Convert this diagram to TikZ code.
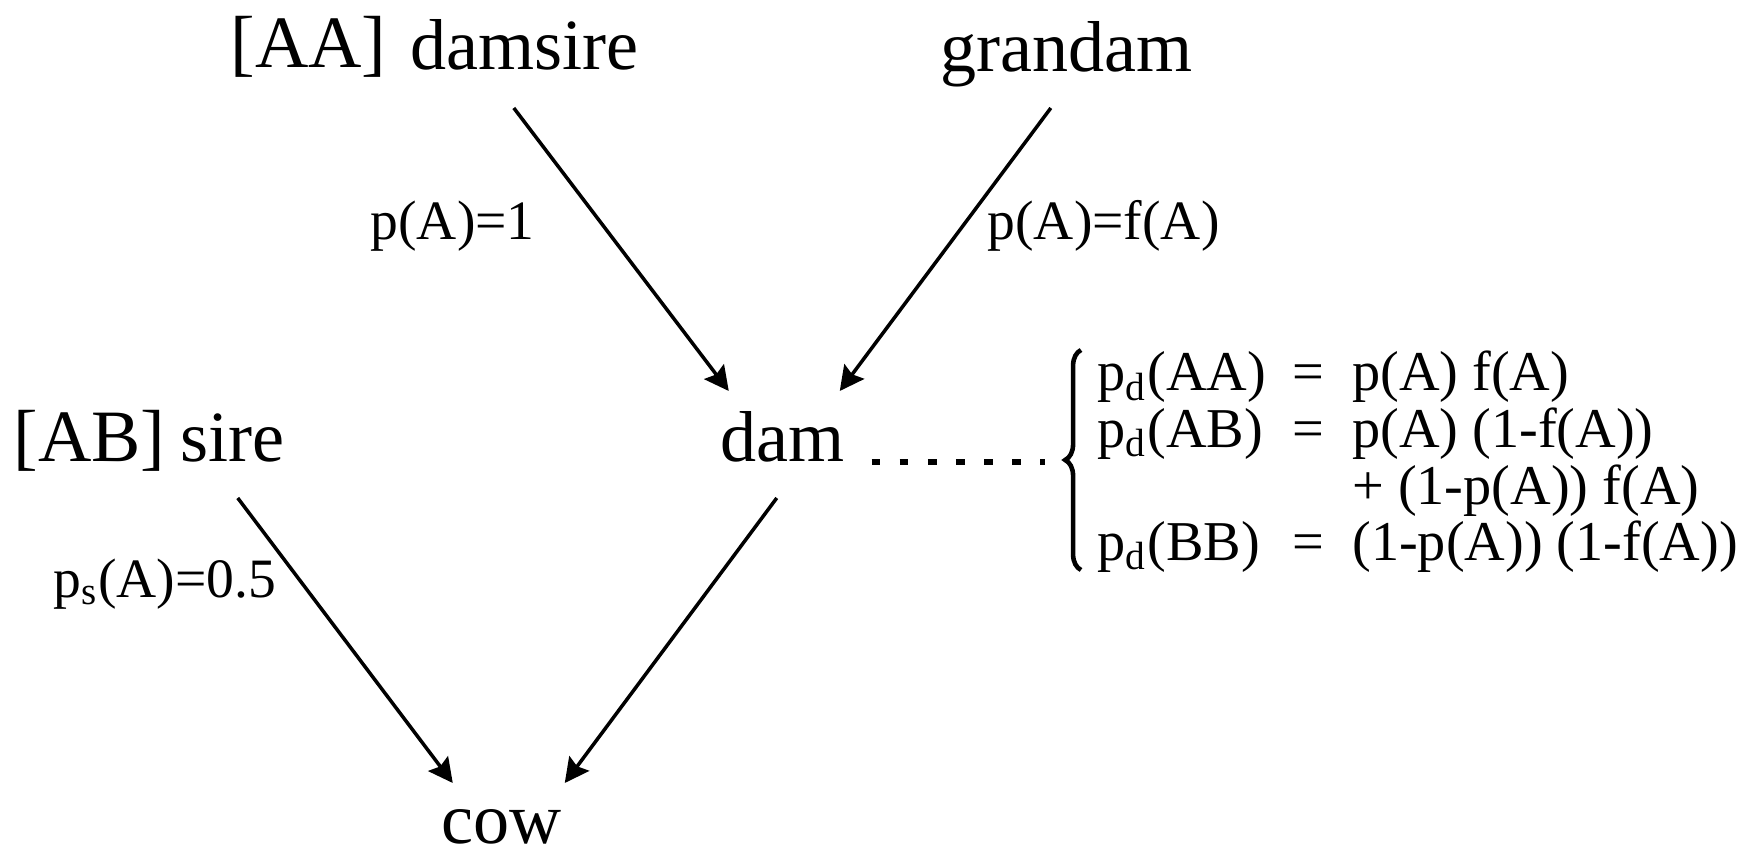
\documentclass[tikz,border=0pt]{standalone}
\usepackage{fontspec}
\setmainfont{Liberation Serif}
\usetikzlibrary{arrows.meta,calc,decorations.pathreplacing}
\tikzset{
  animal/.style={inner sep=0pt, anchor=base west, font=\fontsize{20.5}{24}\selectfont},
  genotype/.style={inner sep=0pt, anchor=base west, font=\fontsize{21}{24}\selectfont},
  prob/.style={inner sep=0pt, anchor=base west, font=\fontsize{15.8}{18}\selectfont},
  eqs/.style={inner sep=0pt, anchor=base west, font=\fontsize{16}{16.1}\selectfont},
  arr/.style={-{Stealth[length=6.9pt,width=7pt,inset=1pt]}, line width=1pt},
}
\begin{document}
\begin{tikzpicture}[x=0.01cm, y=-0.01cm]
  \useasboundingbox (0,0) rectangle (1742,858);
  % animals
  \node[genotype] (aa) at (230,68) {[AA]};
  \node[animal] (damsire) at (410,70) {damsire};
  \node[animal] (grandam) at (940,72) {grandam};
  \node[genotype] (ab) at (13,462) {[AB]};
  \node[animal] (sire) at (180,462) {sire};
  \node[animal] (dam) at (720,462) {dam};
  \node[animal] (cow) at (441,843) {cow};
  % probabilities along the arrows
  \node[prob] (pdamsire) at (370,240) {p(A)=1};
  \node[prob] (pgrandam) at (987,240) {p(A)=f(A)};
  \node[prob] (psire) at (53,597) {p\textsubscript{s}(A)=0.5};
  \draw[arr] ($(damsire.base)+(-11,38)$) -- ($(dam.base)+(-54,-71)$);
  \draw[arr] ($(grandam.base)+(-16,36)$) -- ($(dam.base)+(57,-71)$);
  \draw[arr] ($(sire.base)+(5,36)$) -- ($(cow.base)+(-49,-60)$);
  \draw[arr] ($(dam.base)+(-6,36)$) -- ($(cow.base)+(63,-60)$);
  % genotype probabilities of the dam
  \node[eqs] (damgeno) at (1097,391) {%
    \begin{tabular}[t]{@{}l@{\hspace{7.5pt}}c@{\hspace{8pt}}l@{}}
      p\textsubscript{d}(AA) & = & p(A) f(A)\\
      p\textsubscript{d}(AB) & = & p(A) (1-f(A))\\
       & & + (1-p(A)) f(A)\\
      p\textsubscript{d}(BB) & = & (1-p(A)) (1-f(A))
    \end{tabular}};
  \coordinate (bbot) at (1081,570);
  \coordinate (btop) at (1081,350);
  \draw[line width=1.3pt, decorate, decoration={brace, amplitude=4.5pt}] (bbot) -- (btop);
  \coordinate (btip) at ($(bbot)!0.5!(btop)+(-16,0)$);
  \draw[line width=1.7pt, dash pattern=on 2.5pt off 5.5pt, shorten <=7.4pt, shorten >=5.7pt]
    (dam.base east) -- (dam.base east -| btip);
\end{tikzpicture}
\end{document}
